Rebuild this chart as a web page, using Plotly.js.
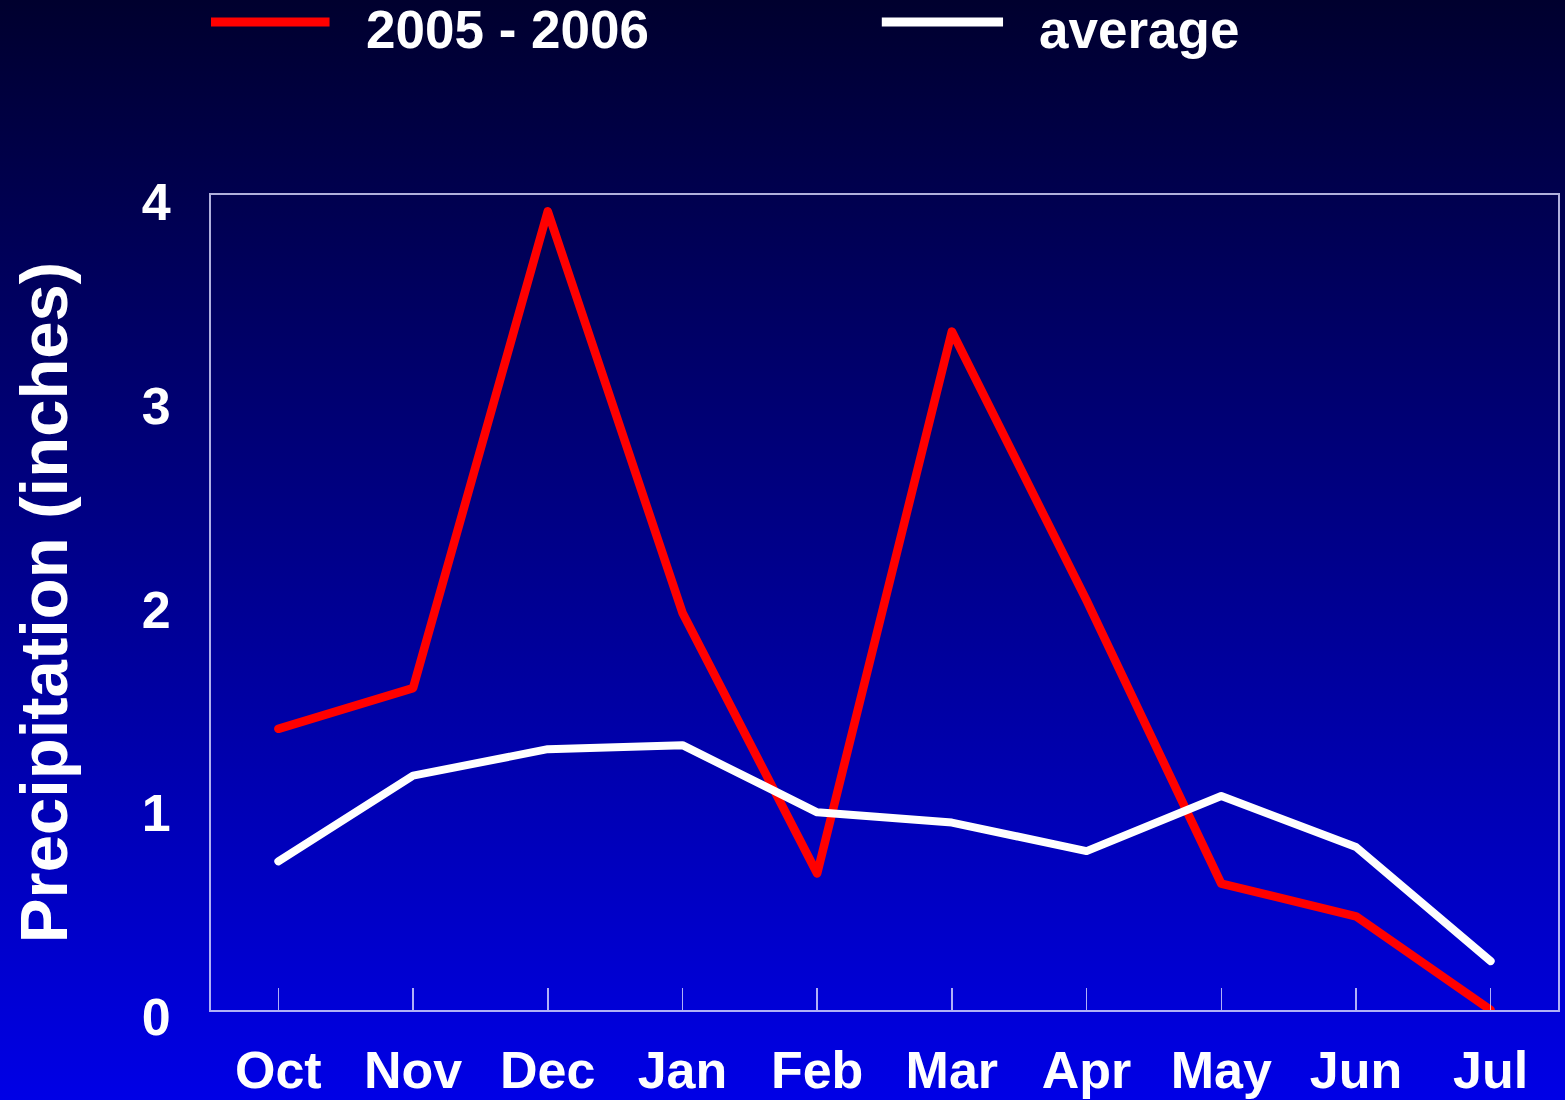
<!DOCTYPE html>
<html>
<head>
<meta charset="utf-8">
<script src="https://cdn.plot.ly/plotly-3.0.1.min.js"></script>
<style>
  html, body { margin: 0; padding: 0; }
  body { width: 1565px; height: 1100px; background: linear-gradient(to bottom, #00002e 0%, #0000e6 100%); }
  #chart { width: 1565px; height: 1100px; }
  #chart path.js-line { stroke-linecap: round; stroke-linejoin: round; }
</style>
</head>
<body>
<div id="chart"></div>
<script>
const months = ["Oct", "Nov", "Dec", "Jan", "Feb", "Mar", "Apr", "May", "Jun", "Jul"];
const season2005_2006 = [1.38, 1.58, 3.92, 1.95, 0.67, 3.33, 2.01, 0.62, 0.46, 0.00];
const averagePrecip = [0.73, 1.15, 1.28, 1.30, 0.97, 0.92, 0.78, 1.05, 0.80, 0.24];
const seriesNames = ["2005 - 2006", "average"];
const yTicks = [0, 1, 2, 3, 4];

const FONT = "Liberation Sans, Arial, sans-serif";
const axisColor = "rgba(220,220,255,0.8)";

const traces = [
  { x: months, y: season2005_2006, name: seriesNames[0], type: "scatter", mode: "lines",
    line: { color: "#ff0000", width: 8.5 } },
  { x: months, y: averagePrecip, name: seriesNames[1], type: "scatter", mode: "lines",
    line: { color: "#ffffff", width: 8 } }
];

const layout = {
  width: 1565, height: 1100,
  paper_bgcolor: "rgba(0,0,0,0)",
  plot_bgcolor: "rgba(0,0,0,0)",
  margin: { l: 211, r: 7, t: 195, b: 90 },
  showlegend: false,
  font: { family: FONT, color: "#ffffff" },
  xaxis: {
    type: "category", range: [-0.5, 9.5],
    showgrid: false, zeroline: false,
    showline: true, linecolor: axisColor, linewidth: 2, mirror: true,
    ticks: "inside", ticklen: 22, tickwidth: 1.5, tickcolor: axisColor,
    tickfont: { family: FONT, size: 52, color: "#ffffff", weight: "bold" },
    ticklabelstandoff: 14
  },
  yaxis: {
    range: [0, 4], tickvals: yTicks,
    showgrid: false, zeroline: false,
    showline: true, linecolor: axisColor, linewidth: 2, mirror: true,
    ticks: "",
    tickfont: { family: FONT, size: 52, color: "#ffffff", weight: "bold" },
    ticklabelstandoff: 28,
    ticklabelshift: 7,
    title: { text: "Precipitation (inches)", standoff: 52,
      font: { family: FONT, size: 67, color: "#ffffff", weight: "bold" } }
  },
  shapes: [
    { type: "line", xref: "paper", yref: "paper", x0: 0.0, x1: 0.088, y0: 1.2123, y1: 1.2123,
      line: { color: "#ff0000", width: 9 } },
    { type: "line", xref: "paper", yref: "paper", x0: 0.498, x1: 0.588, y0: 1.2123, y1: 1.2123,
      line: { color: "#ffffff", width: 9 } }
  ],
  annotations: [
    { xref: "paper", yref: "paper", x: 0.1135, y: 1.2025, xanchor: "left", yanchor: "middle",
      text: seriesNames[0], showarrow: false,
      font: { family: FONT, size: 53, color: "#ffffff", weight: "bold" } },
    { xref: "paper", yref: "paper", x: 0.6135, y: 1.2025, xanchor: "left", yanchor: "middle",
      text: seriesNames[1], showarrow: false,
      font: { family: FONT, size: 53, color: "#ffffff", weight: "bold" } }
  ]
};

Plotly.newPlot("chart", traces, layout, { displayModeBar: false, staticPlot: true });
</script>
</body>
</html>
